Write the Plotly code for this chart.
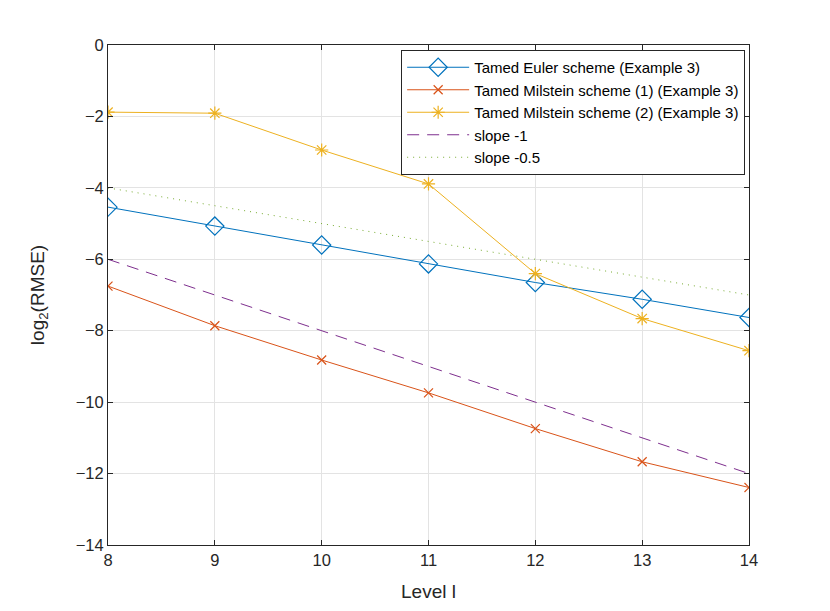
import plotly.graph_objects as go

LEVELS = [8, 9, 10, 11, 12, 13, 14]

EULER = [-4.54, -5.07, -5.60, -6.13, -6.65, -7.12, -7.63]
MILSTEIN_1 = [-6.75, -7.86, -8.82, -9.74, -10.74, -11.67, -12.39]
MILSTEIN_2 = [-1.88, -1.91, -2.94, -3.89, -6.40, -7.66, -8.56]
SLOPE_1 = [-6, -7, -8, -9, -10, -11, -12]
SLOPE_05 = [-4, -4.5, -5, -5.5, -6, -6.5, -7]

Y_TICKS = [0, -2, -4, -6, -8, -10, -12, -14]

BLUE = "#0072BD"
ORANGE = "#D95319"
YELLOW = "#EDB120"
PURPLE = "#7E2F8E"
GREEN = "#77AC30"

fig = go.Figure()

fig.add_trace(go.Scatter(
    x=LEVELS, y=EULER, mode="lines+markers",
    name="Tamed Euler scheme (Example 3)",
    line=dict(color=BLUE, width=1),
    marker=dict(symbol="diamond-open", size=14, color=BLUE, line=dict(width=1.2)),
))
fig.add_trace(go.Scatter(
    x=LEVELS, y=MILSTEIN_1, mode="lines+markers",
    name="Tamed Milstein scheme (1) (Example 3)",
    line=dict(color=ORANGE, width=1),
    marker=dict(symbol="x-thin-open", size=9, color=ORANGE, line=dict(width=1.2, color=ORANGE)),
))
fig.add_trace(go.Scatter(
    x=LEVELS, y=MILSTEIN_2, mode="lines+markers",
    name="Tamed Milstein scheme (2) (Example 3)",
    line=dict(color=YELLOW, width=1),
    marker=dict(symbol="asterisk-open", size=11, color=YELLOW, line=dict(width=1.2, color=YELLOW)),
))
fig.add_trace(go.Scatter(
    x=LEVELS, y=SLOPE_1, mode="lines",
    name="slope -1",
    line=dict(color=PURPLE, width=1, dash="12px,8px"),
))
fig.add_trace(go.Scatter(
    x=LEVELS, y=SLOPE_05, mode="lines",
    name="slope -0.5",
    line=dict(color=GREEN, width=1, dash="1px,5px"),
))

axis_common = dict(
    showgrid=True,
    gridcolor="#e3e3e3",
    gridwidth=1,
    showline=True,
    linecolor="#262626",
    linewidth=1,
    mirror="ticks",
    ticks="inside",
    ticklen=5,
    tickcolor="#262626",
    zeroline=False,
    tickfont=dict(size=16.5, color="#262626"),
)

fig.update_xaxes(
    range=[8, 14],
    tickvals=LEVELS,
    title=dict(text="Level l", font=dict(size=19, color="#262626"), standoff=16),
    **axis_common,
)
fig.update_yaxes(
    range=[-14, 0],
    tickvals=Y_TICKS,
    title=dict(text="log<sub>2</sub>(RMSE)", font=dict(size=19, color="#262626"), standoff=26),
    **axis_common,
)

fig.update_layout(
    width=822,
    height=603,
    margin=dict(l=100, r=81, t=37, b=66),
    paper_bgcolor="white",
    plot_bgcolor="white",
    font=dict(family="Liberation Sans, Arial, sans-serif", color="#262626"),
    legend=dict(
        x=0.994, y=0.99,
        xanchor="right", yanchor="top",
        bgcolor="white",
        bordercolor="#262626",
        borderwidth=1,
        font=dict(size=15, color="black"),
        tracegroupgap=0,
        itemwidth=62,
    ),
)

fig.write_html("out.html")
